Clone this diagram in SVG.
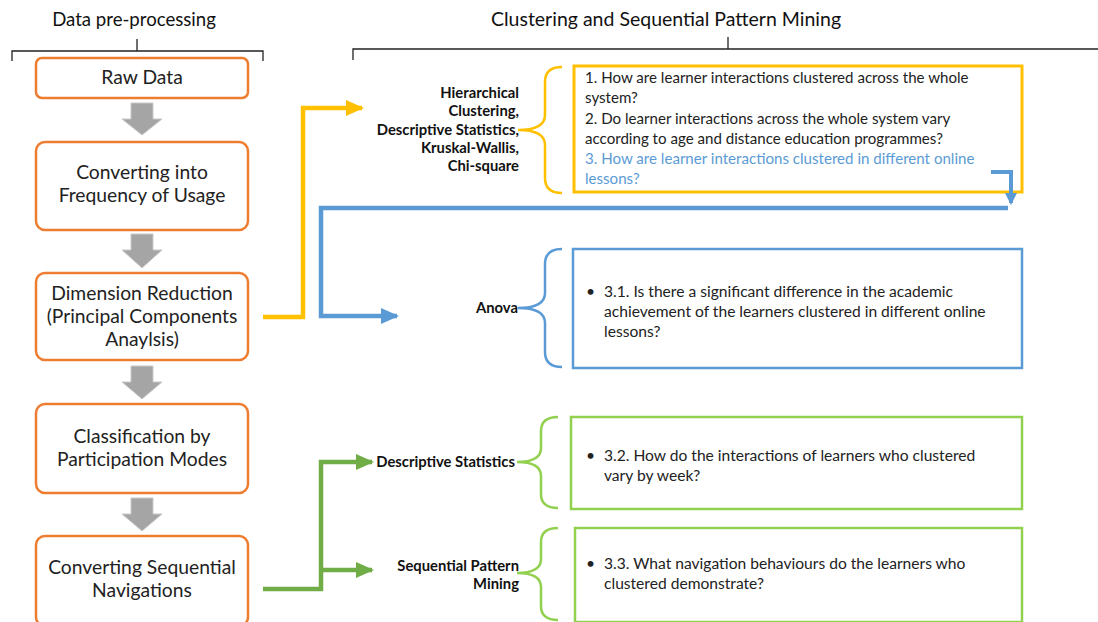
<svg xmlns="http://www.w3.org/2000/svg" width="1098" height="622" viewBox="0 0 1098 622">
<style>
.hdr{font-family:Lato,"Liberation Sans",sans-serif;font-size:18.6px;fill:#111;text-anchor:middle}
.box{fill:#fff;stroke:#ED7D31;stroke-width:2.5}
.bt{font-family:Lato,"Liberation Sans",sans-serif;font-size:19.3px;fill:#222;text-anchor:middle}
.garr{fill:#A5A5A5;stroke:#C9C9C9;stroke-width:1}
.lbl{font-family:Lato,"Liberation Sans",sans-serif;font-size:14.8px;font-weight:bold;fill:#111;text-anchor:end}
.q{font-family:Lato,"Liberation Sans",sans-serif;font-size:15.6px;fill:#222}
.qy{font-family:Lato,"Liberation Sans",sans-serif;font-size:15.1px;fill:#222}
.qb{font-family:Lato,"Liberation Sans",sans-serif;font-size:15.1px;fill:#5B9BD5}
.brk{fill:none;stroke:#222;stroke-width:1.3}
.brace{fill:none;stroke-width:2.5}
</style>
<defs>
<marker id="ay" markerUnits="userSpaceOnUse" markerWidth="18" markerHeight="16" refX="16" refY="8" orient="auto"><path d="M0,0 L18,8 L0,16 Z" fill="#FFC000"/></marker>
<marker id="ab" markerUnits="userSpaceOnUse" markerWidth="18" markerHeight="16" refX="16" refY="8" orient="auto"><path d="M0,0 L18,8 L0,16 Z" fill="#5B9BD5"/></marker>
<marker id="abs" markerUnits="userSpaceOnUse" markerWidth="12" markerHeight="12" refX="10" refY="6" orient="auto"><path d="M0,0 L12,6 L0,12 Z" fill="#5B9BD5"/></marker>
<marker id="ag" markerUnits="userSpaceOnUse" markerWidth="18" markerHeight="16" refX="16" refY="8" orient="auto"><path d="M0,0 L18,8 L0,16 Z" fill="#70AD47"/></marker>
</defs>
<rect width="1098" height="622" fill="#fff"/>

<g id="headers">
<text class="hdr" x="134" y="26">Data pre-processing</text>
<path class="brk" d="M12,61 V51 H263 V61 M137,51 V39"/>
<text class="hdr" x="666" y="26" style="font-size:19.5px">Clustering and Sequential Pattern Mining</text>
<path class="brk" d="M353,60 V49 H1098 M728,49 V37"/>
</g>

<g id="raw-data"><rect class="box" x="36" y="58" width="212" height="40" rx="6"/><text class="bt" x="142" y="84">Raw Data</text></g>
<g id="freq"><rect class="box" x="36" y="142" width="212" height="88" rx="9"/><text class="bt" x="142" y="179">Converting into</text><text class="bt" x="142" y="202">Frequency of Usage</text></g>
<g id="dimred"><rect class="box" x="36" y="273" width="212" height="87" rx="9"/><text class="bt" x="142" y="300">Dimension Reduction</text><text class="bt" x="142" y="323">(Principal Components</text><text class="bt" x="142" y="346">Anaylsis)</text></g>
<g id="classif"><rect class="box" x="36" y="404" width="212" height="89" rx="9"/><text class="bt" x="142" y="443">Classification by</text><text class="bt" x="142" y="466">Participation Modes</text></g>
<g id="seqnav"><rect class="box" x="36" y="536" width="212" height="90" rx="9"/><text class="bt" x="142" y="574">Converting Sequential</text><text class="bt" x="142" y="597">Navigations</text></g>

<g id="gray-arrows">
<path class="garr" d="M131,103 H153 V119 H162 L142,135 L122,119 H131 Z"/>
<path class="garr" d="M131,234 H153 V250 H162 L142,268 L122,250 H131 Z"/>
<path class="garr" d="M131,366 H153 V382 H162 L142,399 L122,382 H131 Z"/>
<path class="garr" d="M131,498 H153 V514 H162 L142,531 L122,514 H131 Z"/>
</g>

<g id="clustering">
<text class="lbl"><tspan x="519" y="98">Hierarchical</tspan><tspan x="519" y="116">Clustering,</tspan><tspan x="519" y="135">Descriptive Statistics,</tspan><tspan x="519" y="153">Kruskal-Wallis,</tspan><tspan x="519" y="171">Chi-square</tspan></text>
<path class="brace" stroke="#FFC000" d="M562,67 Q545,67 545,82 V115 Q545,130 518,130 Q545,130 545,145 V178 Q545,193 562,193"/>
<rect x="574" y="66" width="448" height="126" fill="#fff" stroke="#FFC000" stroke-width="3"/>
<text class="qy" x="585" y="83">1. How are learner interactions clustered across the whole</text>
<text class="qy" x="585" y="103">system?</text>
<text class="qy" x="585" y="124">2. Do learner interactions across the whole system vary</text>
<text class="qy" x="585" y="144">according to age and distance education programmes?</text>
<text class="qb" x="585" y="164">3. How are learner interactions clustered in different online</text>
<text class="qb" x="585" y="184">lessons?</text>
</g>

<g id="anova">
<text class="lbl" x="518" y="313">Anova</text>
<path class="brace" stroke="#5B9BD5" d="M562,249 Q545,249 545,264 V293 Q545,308 518,308 Q545,308 545,323 V352 Q545,367 562,367"/>
<rect x="573" y="249" width="449" height="119" fill="#fff" stroke="#5B9BD5" stroke-width="2.5"/>
<text class="q" x="586" y="297">•</text>
<text class="q" x="604" y="297">3.1. Is there a significant difference in the academic</text>
<text class="q" x="604" y="317">achievement of the learners clustered in different online</text>
<text class="q" x="604" y="337">lessons?</text>
</g>

<g id="descstats">
<text class="lbl" x="515" y="467">Descriptive Statistics</text>
<path class="brace" stroke="#92D050" d="M558,417 Q541,417 541,431 V448 Q541,462 517,462 Q541,462 541,476 V494 Q541,508 558,508"/>
<rect x="571" y="417" width="451" height="92" fill="#fff" stroke="#92D050" stroke-width="2.5"/>
<text class="q" x="586" y="461">•</text>
<text class="q" x="604" y="461">3.2. How do the interactions of learners who clustered</text>
<text class="q" x="604" y="481">vary by week?</text>
</g>

<g id="seqmining">
<text class="lbl"><tspan x="519" y="571">Sequential Pattern</tspan><tspan x="519" y="589">Mining</tspan></text>
<path class="brace" stroke="#92D050" d="M558,528 Q541,528 541,542 V559 Q541,573 517,573 Q541,573 541,587 V606 Q541,620 558,620"/>
<rect x="575" y="528" width="447" height="94" fill="#fff" stroke="#92D050" stroke-width="2.5"/>
<text class="q" x="586" y="569">•</text>
<text class="q" x="604" y="569">3.3. What navigation behaviours do the learners who</text>
<text class="q" x="604" y="589">clustered demonstrate?</text>
</g>

<g id="connectors" fill="none">
<path d="M263,317 H303 V108 H362" stroke="#FFC000" stroke-width="4.5" marker-end="url(#ay)"/>
<path d="M991,172 H1011 V203" stroke="#5B9BD5" stroke-width="4" marker-end="url(#abs)"/>
<path d="M1008,208 H321 V316 H397" stroke="#5B9BD5" stroke-width="4.5" marker-end="url(#ab)"/>
<path d="M263,589 H321 V462 H372" stroke="#70AD47" stroke-width="4.5" marker-end="url(#ag)"/>
<path d="M321,570 H372" stroke="#70AD47" stroke-width="4.5" marker-end="url(#ag)"/>
</g>
</svg>
